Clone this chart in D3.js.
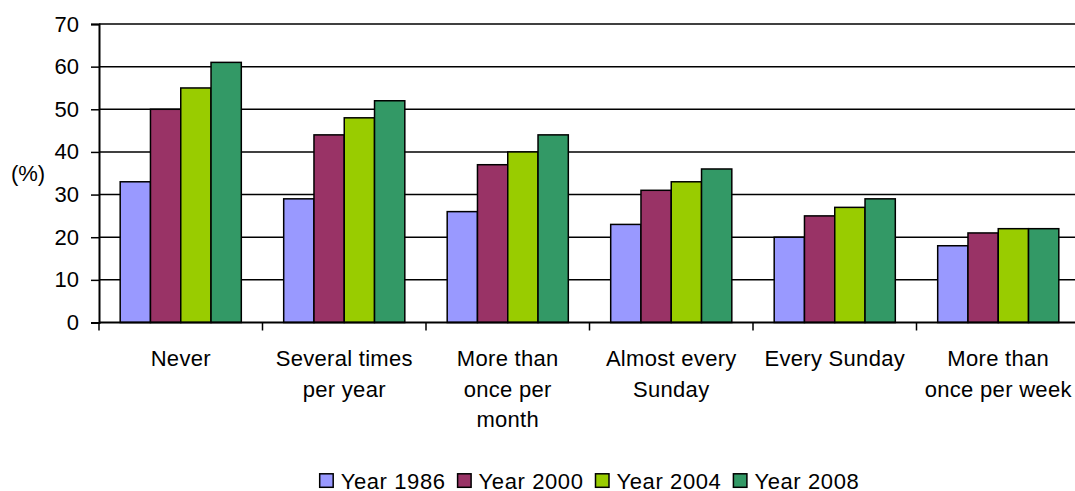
<!DOCTYPE html>
<html>
<head>
<meta charset="utf-8">
<script src="https://cdn.jsdelivr.net/npm/d3@7"></script>
<style>
  html, body { margin: 0; padding: 0; background: #fff; overflow: hidden; }
  svg { display: block; font-family: "Liberation Sans", Arial, sans-serif; }
</style>
</head>
<body>
<svg id="chart" width="1075" height="491"></svg>
<script>
// Church attendance frequency by survey year (%)
const categories = [
  ["Never"],
  ["Several times", "per year"],
  ["More than", "once per", "month"],
  ["Almost every", "Sunday"],
  ["Every Sunday"],
  ["More than", "once per week"]
];
const seriesNames = ["Year 1986", "Year 2000", "Year 2004", "Year 2008"];
const seriesColors = ["#9999FF", "#993366", "#99CC00", "#339966"];
const year1986 = [33, 29, 26, 23, 20, 18];
const year2000 = [50, 44, 37, 31, 25, 21];
const year2004 = [55, 48, 40, 33, 27, 22];
const year2008 = [61, 52, 44, 36, 29, 22];
const yTicks = [0, 10, 20, 30, 40, 50, 60, 70];
const yLabel = "(%)";

const seriesValues = [year1986, year2000, year2004, year2008];
const catKeys = categories.map((c, i) => i);

const svg = d3.select("#chart");
const fontSize = 22;

const plot = { left: 99, top: 24, bottom: 322.5, right: 1080 };

const x0 = d3.scaleBand().domain(catKeys).range([plot.left, plot.right]).padding(0);
const x1 = d3.scaleBand().domain(d3.range(seriesNames.length))
  .range([0, x0.bandwidth()]).paddingInner(0).paddingOuter(0.7);
const y = d3.scaleLinear().domain([0, 70]).range([plot.bottom, plot.top]);

// horizontal gridlines
svg.append("g")
  .selectAll("line")
  .data(yTicks.filter(t => t > 0))
  .join("line")
  .attr("x1", plot.left).attr("x2", plot.right + 10)
  .attr("y1", d => y(d)).attr("y2", d => y(d))
  .attr("stroke", "#000").attr("stroke-width", 1.5);

// bars
const groups = svg.append("g")
  .selectAll("g")
  .data(catKeys)
  .join("g")
  .attr("transform", d => `translate(${x0(d)},0)`);

groups.selectAll("rect")
  .data(ci => seriesValues.map((vals, si) => ({ si, v: vals[ci] })))
  .join("rect")
  .attr("x", d => x1(d.si))
  .attr("width", x1.bandwidth())
  .attr("y", d => y(d.v))
  .attr("height", d => y(0) - y(d.v))
  .attr("fill", d => seriesColors[d.si])
  .attr("stroke", "#000")
  .attr("stroke-width", 1.5);

// y axis
const yAxis = d3.axisLeft(y).tickValues(yTicks).tickSize(8).tickPadding(12);
const yg = svg.append("g").attr("transform", `translate(${plot.left},0)`).call(yAxis);
yg.select(".domain").attr("stroke", "#000").attr("stroke-width", 2);
yg.selectAll(".tick line").attr("stroke", "#000").attr("stroke-width", 1.5);
yg.selectAll(".tick text")
  .attr("font-size", fontSize).attr("fill", "#000")
  .attr("font-family", "Liberation Sans, Arial, sans-serif");

// x axis baseline with ticks at category boundaries
const xg = svg.append("g");
xg.append("line")
  .attr("x1", plot.left).attr("x2", plot.right + 10)
  .attr("y1", y(0)).attr("y2", y(0))
  .attr("stroke", "#000").attr("stroke-width", 2);
xg.selectAll("line.tick")
  .data(catKeys.concat([catKeys.length]))
  .join("line")
  .attr("class", "tick")
  .attr("x1", d => d < catKeys.length ? x0(d) : plot.right)
  .attr("x2", d => d < catKeys.length ? x0(d) : plot.right)
  .attr("y1", y(0)).attr("y2", y(0) + 8)
  .attr("stroke", "#000").attr("stroke-width", 1.5);

// category labels
const lineGap = 30.5;
xg.selectAll("text.cat")
  .data(catKeys)
  .join("text")
  .attr("class", "cat")
  .attr("text-anchor", "middle")
  .attr("font-size", fontSize)
  .attr("letter-spacing", 0.3)
  .attr("fill", "#000")
  .each(function (d) {
    const t = d3.select(this);
    const cx = x0(d) + x0.bandwidth() / 2;
    categories[d].forEach((line, li) => {
      t.append("tspan")
        .attr("x", cx)
        .attr("y", y(0) + 43.5 + li * lineGap)
        .text(line);
    });
  });

// y axis unit label
svg.append("text")
  .attr("x", 28).attr("y", 173)
  .attr("text-anchor", "middle")
  .attr("dominant-baseline", "central")
  .attr("font-size", fontSize)
  .attr("fill", "#000")
  .text(yLabel);

// legend, centred under the plot area
const sq = 13.5;
const legendBase = 489.3;
const legend = svg.append("g");
const items = legend.selectAll("g")
  .data(seriesNames)
  .join("g");
items.append("rect")
  .attr("x", 0).attr("y", legendBase - 15.5)
  .attr("width", sq).attr("height", sq)
  .attr("fill", (d, i) => seriesColors[i])
  .attr("stroke", "#000").attr("stroke-width", 1.5);
items.append("text")
  .attr("x", 21).attr("y", legendBase)
  .attr("font-size", fontSize)
  .attr("letter-spacing", 0.6)
  .attr("fill", "#000")
  .text(d => d);
let lx = 0;
const offsets = [];
items.each(function () {
  offsets.push(lx);
  const w = d3.select(this).select("text").node().getComputedTextLength();
  lx += 21 + w + 12;
});
const legendWidth = lx - 12;
const legendStart = (plot.left + plot.right) / 2 - legendWidth / 2;
items.attr("transform", (d, i) => `translate(${legendStart + offsets[i]},0)`);
</script>
</body>
</html>
